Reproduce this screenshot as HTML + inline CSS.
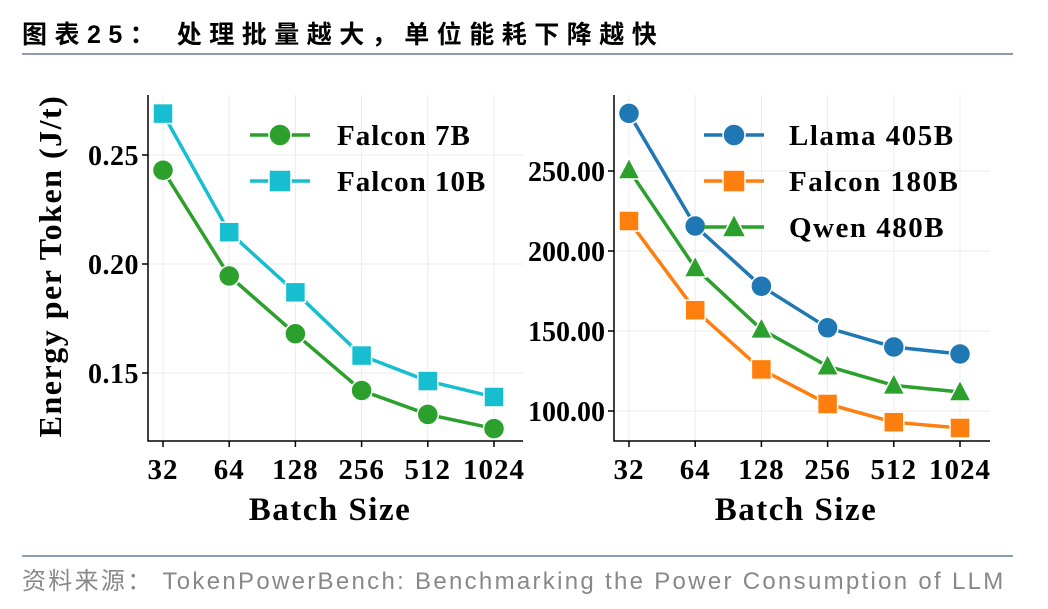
<!DOCTYPE html>
<html><head><meta charset="utf-8"><style>
body{margin:0;background:#fff;width:1048px;height:604px;overflow:hidden;}
svg text{font-family:"Liberation Serif","Noto Serif CJK SC",serif;}
</style></head><body>
<svg id="s" width="1048" height="604" xmlns="http://www.w3.org/2000/svg">
<text x="22" y="43" font-size="25" font-weight="bold" fill="#000" letter-spacing="7.5" style='font-family:"Liberation Sans","Noto Sans CJK SC",sans-serif'>图表25： 处理批量越大，单位能耗下降越快</text>
<line x1="22" y1="54" x2="1013" y2="54" stroke="#8a9bb5" stroke-width="2"/>
<line x1="22" y1="556" x2="1013" y2="556" stroke="#8a9bb5" stroke-width="2"/>
<text x="22" y="589" font-size="24" fill="#888" letter-spacing="2.3" style='font-family:"Liberation Sans","Noto Sans CJK SC",sans-serif'>资料来源： TokenPowerBench: Benchmarking the Power Consumption of LLM</text>
<g id="L"></g><g id="R"></g>
</svg>
<script>
const cats=["32","64","128","256","512","1024"];
const leftTicks=[0.15,0.20,0.25];
const leftTickLabels=["0.15","0.20","0.25"];
const falcon7b=[0.243,0.1945,0.168,0.142,0.131,0.1245];
const falcon10b=[0.269,0.2146,0.187,0.158,0.1463,0.139];
const rightTicks=[100,150,200,250];
const rightTickLabels=["100.00","150.00","200.00","250.00"];
const llama405=[286,215.6,178,152,140,135.6];
const falcon180=[218.75,163,126,104.4,93,89.4];
const qwen480=[250.6,189.4,151,128,116,111.9];
const NS="http://www.w3.org/2000/svg";
function mk(p,t,a){const e=document.createElementNS(NS,t);for(const k in a)e.setAttribute(k,a[k]);p.appendChild(e);return e;}
function marker(g,type,x,y,c,s){
 if(type==="o")return mk(g,"circle",{cx:x,cy:y,r:s/2,fill:c,stroke:"#fff","stroke-width":1.5});
 if(type==="s")return mk(g,"rect",{x:x-s/2,y:y-s/2,width:s,height:s,fill:c,stroke:"#fff","stroke-width":1.5});
 return mk(g,"polygon",{points:`${x},${y-s/2-2} ${x-s/2-1},${y+s/2-1} ${x+s/2+1},${y+s/2-1}`,fill:c,stroke:"#fff","stroke-width":1.5});
}
function panel(gid,o){
 const g=document.getElementById(gid);
 const xs=i=>o.x0+i*o.dx;
 const ys=v=>o.yRef+(o.vRef-v)*o.ppu;
 o.ticks.forEach((t,i)=>{const y=ys(t);
  const gl=mk(g,"line",{x1:o.axL,x2:o.axR,y1:y,y2:y,stroke:"#ebebeb","stroke-width":1});
  
  
  const tk=mk(g,"line",{x1:o.axL-6,x2:o.axL,y1:y,y2:y,stroke:"#000","stroke-width":1.5});
  
  
  const tl=mk(g,"text",{x:o.axL-9,y:y+10,"text-anchor":"end","font-size":28,"font-weight":"bold","letter-spacing":o.tls});tl.textContent=o.labels[i];
  
  
 });
 cats.forEach((c,i)=>{const x=xs(i);
  const gl=mk(g,"line",{x1:x,x2:x,y1:o.axT,y2:o.axB,stroke:"#ebebeb","stroke-width":1});
  
  
  const tk=mk(g,"line",{x1:x,x2:x,y1:o.axB,y2:o.axB+6,stroke:"#000","stroke-width":1.5});
  
  
  const tl=mk(g,"text",{x:x,y:o.axB+38,"text-anchor":"middle","font-size":29,"font-weight":"bold","letter-spacing":1});tl.textContent=c;
  
  
 });
 const ax=mk(g,"path",{d:`M${o.axL},${o.axT} V${o.axB} H${o.axR}`,fill:"none",stroke:"#000","stroke-width":1.5});
 
 
 const xt=mk(g,"text",{x:o.xtX,y:520,"text-anchor":"middle","font-size":33,"font-weight":"bold","letter-spacing":1.5});xt.textContent="Batch Size";
 
 
 o.series.forEach((s,k)=>{
  const sg=mk(g,"g",{});
  
  
  const pts=s.vals.map((v,i)=>xs(i)+","+ys(v)).join(" ");
  mk(sg,"polyline",{points:pts,fill:"none",stroke:s.c,"stroke-width":3.5});
  s.vals.forEach((v,i)=>{const m=marker(sg,s.m,xs(i),ys(v),s.c,s.m==="o"?21:20);
   
   });
  const ly=o.legY+k*o.legDy;
  const lg=mk(g,"g",{});
  
  
  mk(lg,"line",{x1:o.legX,x2:o.legX+60,y1:ly,y2:ly,stroke:s.c,"stroke-width":3.5});
  marker(lg,s.m,o.legX+30,ly,s.c,22);
  const t=mk(lg,"text",{x:o.legX+o.legT,y:ly+10,"font-size":29,"font-weight":"bold","letter-spacing":o.lls});t.textContent=s.name;
 });
}
panel("L",{x0:163,dx:66.2,yRef:155,vRef:0.25,ppu:2180,axL:148,axR:523,axT:95,axB:441,ticks:leftTicks,labels:leftTickLabels,legX:250,legT:87,legY:135,legDy:46,xtX:330,tls:0.5,lls:1,
 series:[{name:"Falcon 7B",vals:falcon7b,c:"#2ca02c",m:"o"},{name:"Falcon 10B",vals:falcon10b,c:"#17becf",m:"s"}]});
panel("R",{x0:629,dx:66.2,yRef:171,vRef:250,ppu:1.6,axL:614,axR:990,axT:95,axB:441,ticks:rightTicks,labels:rightTickLabels,legX:704,legT:85,legY:135,legDy:46,xtX:796,tls:0,lls:1.5,
 series:[{name:"Llama 405B",vals:llama405,c:"#1f77b4",m:"o"},{name:"Falcon 180B",vals:falcon180,c:"#ff7f0e",m:"s"},{name:"Qwen 480B",vals:qwen480,c:"#2ca02c",m:"^"}]});
const yt=mk(document.getElementById("L"),"text",{x:0,y:0,"text-anchor":"middle","font-size":32,"font-weight":"bold","letter-spacing":1.5,transform:"translate(61,266) rotate(-90)"});
yt.textContent="Energy per Token (J/t)";


</script>
</body></html>
